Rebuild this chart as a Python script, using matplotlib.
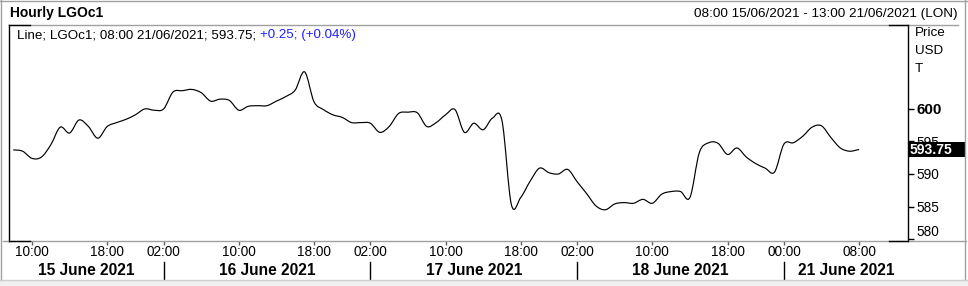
import matplotlib
matplotlib.use('Agg')
import matplotlib.pyplot as plt
import matplotlib.transforms as mtransforms
from matplotlib.lines import Line2D
from matplotlib.patches import Rectangle, PathPatch
from matplotlib.path import Path

plt.rcParams['font.family'] = ['Liberation Sans', 'DejaVu Sans']

# hourly LGOc1 closes, bar 0 = 08:00 15/06/2021 (trading hours only)
prices = [
    593.7, 593.5, 592.4, 592.6, 594.5, 597.2, 596.3, 598.3, 597.3, 595.5,
    597.3, 597.9, 598.4, 599.1, 600.0, 599.8, 600.0, 602.6, 602.8, 603.0,
    602.5, 601.2, 601.5, 601.3, 599.8, 600.4, 600.5, 600.5, 601.2, 601.9,
    602.9, 605.7, 601.1, 599.9, 599.1, 598.7, 597.9, 597.9, 597.8, 596.4,
    597.3, 599.3, 599.5, 599.4, 597.3, 597.9, 599.1, 599.9, 596.4, 597.8,
    596.8, 598.6, 598.2, 585.3, 586.4, 588.9, 590.9, 590.2, 590.0, 590.7,
    588.8, 587.0, 585.1, 584.5, 585.4, 585.6, 585.5, 586.1, 585.5, 586.9,
    587.3, 587.3, 586.4, 593.3, 594.8, 594.7, 593.0, 594.0, 592.6, 591.6,
    590.9, 590.3, 594.6, 594.8, 595.8, 597.2, 597.4, 595.6, 594.0, 593.5,
    593.75,
]

tick_pos = [2, 10, 16, 24, 32, 38, 46, 54, 60, 68, 76, 82, 90]
tick_labels = ['10:00', '18:00', '02:00', '10:00', '18:00', '02:00', '10:00',
               '18:00', '02:00', '10:00', '18:00', '00:00', '08:00']
day_breaks = [16, 38, 60, 82]
day_labels = ['15 June 2021', '16 June 2021', '17 June 2021',
              '18 June 2021', '21 June 2021']
y_ticks = [580, 585, 590, 595, 600]

last_price = prices[-1]
legend_main = 'Line; LGOc1; 08:00 21/06/2021; 593.75;'
legend_change = '+0.25; (+0.04%)'

W, H = 968, 286
fig = plt.figure(figsize=(W / 100, H / 100), dpi=100)


def fx(px):
    return px / W


def fy(py):
    return 1 - py / H


def fig_line(xs, ys, color, lw=1.0):
    fig.add_artist(Line2D([fx(v) for v in xs], [fy(v) for v in ys],
                          transform=fig.transFigure, color=color, lw=lw))


def smooth_path(ys):
    # draw the closes as a smooth curve (Catmull-Rom as cubic Bezier)
    n = len(ys)
    verts = [(0, ys[0])]
    codes = [Path.MOVETO]
    for i in range(n - 1):
        y0 = ys[max(i - 1, 0)]
        y3 = ys[min(i + 2, n - 1)]
        c1 = (i + 1 / 3, ys[i] + (ys[i + 1] - y0) / 6)
        c2 = (i + 2 / 3, ys[i + 1] - (y3 - ys[i]) / 6)
        verts += [c1, c2, (i + 1, ys[i + 1])]
        codes += [Path.CURVE4] * 3
    return Path(verts, codes)


# outer frame of the widget
fig.add_artist(Rectangle((0, 0), 1, fy(280), transform=fig.transFigure,
                         facecolor='#f0f0f0', edgecolor='none'))
fig_line([1, 1], [0, 280], '#a0a0a0')
fig_line([965, 965], [0, 280], '#a0a0a0')
fig_line([0, 968], [0.5, 0.5], '#a0a0a0')
fig_line([0, 968], [280, 280], '#d0d0d0')
fig_line([9, 958], [25, 25], '#a0a0a0')
fig_line([3, 966], [241, 241], '#a0a0a0')

ax = fig.add_axes([fx(9), fy(241), fx(908) - fx(9), fy(25) - fy(241)])
ax.add_patch(PathPatch(smooth_path(prices), facecolor='none',
                       edgecolor='black', lw=0.85))
ax.set_xlim(-0.45, 95.2)
ax.set_ylim(579.7, 612.9)

for s in ['top', 'bottom']:
    ax.spines[s].set_visible(False)
for s in ['left', 'right']:
    ax.spines[s].set_color('black')
    ax.spines[s].set_linewidth(1.0)

# little black corner marks on the gray frame
for xs in ([9, 30], [889, 908]):
    fig_line(xs, [25, 25], 'black')
    fig_line(xs, [240.5, 240.5], 'black')

ax.yaxis.tick_right()
ax.set_yticks(y_ticks, [str(t) for t in y_ticks])
ax.tick_params(axis='y', length=4, width=1, pad=2, labelsize=9.8)
for lab in ax.get_yticklabels():
    if lab.get_text() == '600':
        lab.set_fontweight('bold')
        lab.set_fontsize(11)
    if lab.get_text() == '580':
        lab.set_verticalalignment('bottom')

ax.set_xticks(tick_pos, tick_labels)
ax.tick_params(axis='x', length=3, width=1, pad=0, labelsize=9.8, color='#606060')

trans = mtransforms.blended_transform_factory(ax.transData, ax.transAxes)
edges = [-0.45] + day_breaks + [95.2]
for i, lab in enumerate(day_labels):
    c = (edges[i] + edges[i + 1]) / 2
    ax.text(c, -0.135, lab, transform=trans, ha='center', va='center',
            fontweight='bold', fontsize=11.2)
for b in day_breaks:
    ax.plot([b, b], [-0.097, -0.176], transform=trans, color='black',
            lw=1.0, clip_on=False)

# last price box on the price scale
ptrans = mtransforms.blended_transform_factory(fig.transFigure, ax.transData)
ax.add_patch(Rectangle((fx(908), last_price - 1.15), fx(965) - fx(908), 2.3,
                       transform=ptrans, facecolor='black', edgecolor='none',
                       clip_on=False, zorder=5))
ax.text(fx(910), last_price, f'{last_price:.2f}', transform=ptrans,
        ha='left', va='center', color='white', fontweight='bold',
        fontsize=10, zorder=6, clip_on=False)

# header and legend texts
fig.text(fx(10), fy(13), 'Hourly LGOc1', fontweight='bold', fontsize=10,
         va='center')
fig.text(fx(958), fy(14), '08:00 15/06/2021 - 13:00 21/06/2021 (LON)',
         ha='right', va='center', fontsize=9.7)
t1 = fig.text(fx(17), fy(35), legend_main, va='center', fontsize=9.6)
fig.canvas.draw()
x1 = t1.get_window_extent().x1
fig.text(x1 / W + fx(4), fy(35), legend_change, va='center', fontsize=9.6,
         color='#2020ff')

for i, lab in enumerate(['Price', 'USD', 'T']):
    fig.text(fx(915), fy(33 + 18 * i), lab, va='center', fontsize=9.6)

fig.savefig('out.png', dpi=100)
